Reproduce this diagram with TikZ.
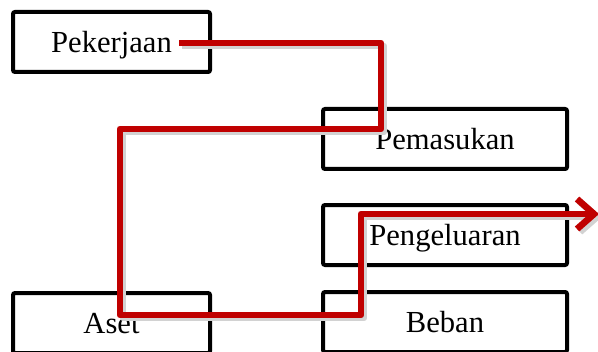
\documentclass[tikz,border=0pt]{standalone}
\usepackage{fontspec}
\setmainfont{Liberation Serif}
\usepackage{tikz}
\usetikzlibrary{calc,arrows.meta}

\definecolor{flowred}{RGB}{192,0,0}

\begin{document}
\begin{tikzpicture}[x=0.5pt,y=-0.5pt,
    akun/.style={draw,line width=2pt,rounded corners=1pt,fill=white,
      minimum width=98.5pt,minimum height=30pt,inner sep=0pt,
      text depth=0pt,font=\fontsize{15.3}{17}\selectfont},
    akunlebar/.style={akun,minimum width=122pt},
    alur/.style={line width=3.3pt,line join=round,
      -{Straight Barb[length=8.5pt,width=15pt]}}]
    \useasboundingbox (0,0) rectangle (598,352);

    \node[akun] (pek) at (111.5,42) {Pekerjaan};
    \node[akunlebar] (pem) at (445,139) {Pemasukan};
    \node[akunlebar] (pen) at (445,235) {Pengeluaran};
    \node[akun] (aset) at (111.5,323) {Aset};
    \node[akunlebar] (beban) at (445,322) {Beban};

    \coordinate (mulai) at ($(pek.east)+(-33,1)$);
    \coordinate (b1) at ($(pem.north west)+(60,22)$);
    \coordinate (b2) at ($(aset.north)+(8.5,-162)$);
    \coordinate (b3) at ($(beban.west)+(40,-7)$);
    \coordinate (ujung) at ($(pen.east)+(30,-21)$);

    \begin{scope}[transform canvas={shift={(1.5pt,-1.5pt)}}]
      \draw[alur,gray!35] (mulai) -| (b1) -- (b2) |- (b3) |- (ujung);
    \end{scope}
    \draw[alur,flowred] (mulai) -| (b1) -- (b2) |- (b3) |- (ujung);
  \end{tikzpicture}
\end{document}
